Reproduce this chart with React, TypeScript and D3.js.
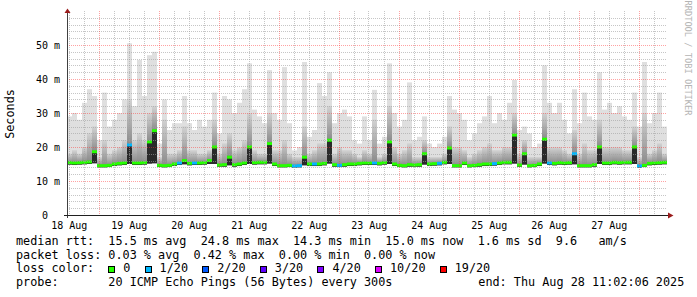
import React from "react";
import * as d3 from "d3";

const W = 697;
const H = 297;

// ---- data (2-hour bins, 10 days) ----
const MED = [
  15.4, 15.3, 15.4, 15.5, 15.6, 18.6, 14.5, 14.5, 14.6, 15.0, 15.2, 15.3,
  20.6, 15.3, 15.3, 15.4, 21.5, 24.8, 14.6, 14.5, 14.6, 15.0, 15.3, 16.0,
  15.2, 15.3, 15.3, 15.4, 16.0, 20.0, 14.7, 14.8, 17.0, 14.8, 15.0, 15.3,
  20.0, 15.4, 15.5, 15.5, 21.0, 15.0, 14.5, 14.5, 14.6, 14.4, 14.5, 17.0,
  15.0, 15.0, 15.0, 15.2, 22.0, 14.8, 14.6, 14.8, 15.0, 15.0, 15.2, 15.3,
  15.3, 15.3, 15.2, 15.4, 21.5, 15.0, 14.6, 14.5, 14.8, 14.7, 14.8, 18.0,
  15.0, 15.1, 15.2, 15.5, 19.7, 14.5, 14.5, 15.3, 14.5, 14.6, 14.8, 15.0,
  15.0, 15.1, 15.3, 15.5, 15.5, 23.5, 14.7, 18.0, 14.5, 14.6, 15.0, 22.3,
  15.3, 15.2, 15.4, 15.3, 15.4, 18.0, 14.5, 14.5, 14.5, 14.8, 20.0, 15.3,
  15.3, 15.5, 15.4, 15.5, 15.5, 20.0, 14.4, 14.6, 15.2, 15.3, 15.4, 15.5,
];
const MIN = [
  14.8, 14.7, 14.8, 14.9, 15.0, 15.2, 14.0, 14.0, 14.1, 14.4, 14.6, 14.7,
  15.0, 14.7, 14.7, 14.8, 15.1, 15.2, 14.1, 14.0, 14.1, 14.4, 14.7, 14.9,
  14.6, 14.7, 14.7, 14.8, 15.0, 15.0, 14.2, 14.2, 14.6, 14.2, 14.4, 14.7,
  15.0, 14.8, 14.9, 14.9, 15.1, 14.4, 14.0, 14.0, 14.1, 13.9, 14.0, 14.6,
  14.4, 14.4, 14.4, 14.6, 15.1, 14.2, 14.1, 14.2, 14.4, 14.4, 14.6, 14.7,
  14.7, 14.7, 14.6, 14.8, 15.0, 14.4, 14.1, 14.0, 14.2, 14.2, 14.2, 14.8,
  14.4, 14.5, 14.6, 14.9, 15.0, 14.0, 14.0, 14.7, 14.0, 14.1, 14.2, 14.4,
  14.4, 14.5, 14.7, 14.9, 14.9, 15.1, 14.2, 14.8, 14.0, 14.1, 14.4, 15.1,
  14.7, 14.6, 14.8, 14.7, 14.8, 14.9, 14.0, 14.0, 14.0, 14.2, 15.0, 14.7,
  14.7, 14.9, 14.8, 14.9, 14.9, 15.0, 13.9, 14.1, 14.6, 14.7, 14.8, 14.9,
];
const UPP = [
  18, 19, 18, 20, 24, 26, 17, 22, 18, 19, 20, 22,
  34, 22, 24, 22, 30, 32, 17, 28, 18, 18, 19, 26,
  19, 19, 18, 18, 19, 28, 18, 21, 24, 19, 20, 22,
  30, 19, 18, 18, 30, 19, 19, 22, 18, 17, 17, 26,
  18, 19, 21, 21, 32, 18, 20, 19, 19, 18, 17, 19,
  18, 28, 17, 18, 32, 20, 18, 19, 21, 17, 17, 22,
  17, 17, 17, 18, 26, 20, 20, 19, 17, 18, 19, 20,
  21, 19, 19, 20, 20, 30, 18, 22, 17, 17, 17, 30,
  20, 20, 20, 19, 18, 25, 18, 21, 19, 19, 28, 20,
  20, 20, 20, 19, 19, 26, 17, 30, 18, 19, 21, 18,
];
const TOP = [
  29, 30, 28, 33, 37, 35, 22, 36, 26, 28, 30, 34,
  50.5, 32, 45.6, 35, 47, 48, 21, 34, 25, 27, 27, 35,
  27, 25, 28, 26, 28, 36, 24, 35, 34, 30, 33, 37,
  44.6, 31, 29, 27, 42.6, 30, 28, 43.5, 27, 19, 20, 45,
  23, 25, 38.8, 35, 42, 27, 30, 31, 29, 22, 21, 29,
  22, 36.8, 21, 23, 44.6, 30, 26, 28, 39, 22, 23, 29,
  21, 20, 21, 23, 35, 31, 30, 28, 22, 24, 27, 29,
  35, 27, 30, 28, 33, 39.7, 25, 26, 24, 20, 21, 44,
  33, 30, 33, 28, 24, 37, 27, 36, 29, 28, 42, 31,
  33, 30, 32, 29, 28, 36, 26, 45, 27, 30, 36, 26,
];
const LOSS = [
  0, 0, 0, 0, 0, 0, 0, 0, 0, 0, 0, 0,
  1, 0, 0, 0, 0, 0, 0, 0, 0, 0, 1, 0,
  0, 1, 0, 0, 0, 0, 0, 0, 0, 0, 0, 0,
  0, 0, 0, 0, 0, 0, 0, 0, 0, 1, 1, 0,
  0, 1, 0, 0, 0, 0, 1, 0, 0, 0, 0, 0,
  0, 1, 0, 0, 0, 0, 0, 0, 0, 0, 0, 0,
  0, 0, 1, 0, 0, 0, 0, 0, 0, 0, 0, 0,
  0, 1, 0, 0, 0, 0, 0, 0, 0, 0, 0, 0,
  1, 0, 0, 0, 0, 1, 0, 0, 0, 0, 0, 0,
  0, 0, 0, 0, 0, 0, 1, 0, 0, 0, 0, 0,
];

const Y_TICKS = [0, 10, 20, 30, 40, 50];
const LOSS_LEVELS = [0, 1, 2, 3, 4, 10, 19];
const LOSS_COLORS = ["#26ff00", "#00b8ff", "#0059ff", "#5e00ff", "#7e00ff", "#dd00ff", "#ff0000"];
const LOSS_LABELS = ["0", "1/20", "2/20", "3/20", "4/20", "10/20", "19/20"];

const LINE_RTT = "median rtt:  15.5 ms avg  24.8 ms max  14.3 ms min  15.0 ms now  1.6 ms sd  9.6   am/s";
const LINE_LOSS = "packet loss: 0.03 % avg  0.42 % max  0.00 % min  0.00 % now";
const LINE_COLOR = "loss color:";
const LINE_PROBE = "probe:       20 ICMP Echo Pings (56 Bytes) every 300s";
const LINE_END = "end: Thu Aug 28 11:02:06 2025";
const WATERMARK = "RRDTOOL / TOBI OETIKER";
const Y_TITLE = "Seconds";

const MONO = "'DejaVu Sans Mono', 'Liberation Mono', monospace";
const CW = 7.1;
const PRE = { whiteSpace: "pre" as const };

const T0 = Date.UTC(2025, 7, 17, 23, 24);
const HOUR = 3600 * 1000;
const T1 = T0 + 240 * HOUR;

function lossColor(l: number) {
  let c = LOSS_COLORS[0];
  LOSS_LEVELS.forEach((lv, i) => {
    if (l >= lv) c = LOSS_COLORS[i];
  });
  return c;
}

export default function App() {
  const x = d3.scaleUtc().domain([new Date(T0), new Date(T1)]).range([67, 667]);
  const y = d3.scaleLinear().domain([0, 60]).range([215, 11]);
  const binMs = (T1 - T0) / MED.length;

  const bins = MED.map((m, i) => {
    const xs = x(new Date(T0 + i * binMs));
    const xe = x(new Date(T0 + (i + 1) * binMs));
    return { i, xs, xe, med: m, min: MIN[i], upp: UPP[i], top: TOP[i], loss: LOSS[i] };
  });

  const vTimes = d3.utcHour.every(6)!.range(new Date(T0), new Date(T1));
  const days = d3.utcDay.range(new Date(T0), new Date(T1));
  const hMinor = d3.range(2, 60, 2).filter((v) => v % 10 !== 0);
  const hMajor = d3.range(10, 60, 10);
  const fmt = d3.utcFormat("%d %b");

  const py = (v: number) => Math.round(y(v)) + 0.5;

  let lx = 108.3;
  const legendItems = LOSS_LABELS.map((lab, i) => {
    const bx = lx;
    const tx = bx + 15;
    lx = tx + lab.length * CW + 2 * CW;
    return { bx, tx, lab, color: LOSS_COLORS[i] };
  });

  return (
    <svg
      width={W}
      height={H}
      viewBox={`0 0 ${W} ${H}`}
      style={{ position: "absolute", left: 0, top: 0, background: "#fff" }}
    >
      <defs>
        <linearGradient id="upg" x1="0" y1="1" x2="0" y2="0">
          <stop offset="0" stopColor="#8a8a8a" />
          <stop offset="1" stopColor="#d2d2d2" />
        </linearGradient>
      </defs>
      <rect x={0} y={0} width={W} height={H} fill="#fff" />

      {/* smoke */}
      {bins.map((b) => (
        <g key={"s" + b.i}>
          <rect x={b.xs} y={y(b.top)} width={b.xe - b.xs} height={y(b.min) - y(b.top)} fill="#dfdfdf" />
          <rect x={b.xs} y={y(b.upp)} width={b.xe - b.xs} height={y(b.min) - y(b.upp)} fill="#d0d0d0" />
          <rect x={b.xs} y={y(b.upp)} width={b.xe - b.xs} height={y(b.med) - y(b.upp)} fill="url(#upg)" />
          <rect x={b.xs} y={y(b.med)} width={b.xe - b.xs} height={Math.max(0, y(b.min) - y(b.med))} fill="#2a2a2a" />
        </g>
      ))}

      {/* median line coloured by loss */}
      {bins.map((b) => (
        <rect key={"m" + b.i} x={b.xs} y={y(b.med) - 1.5} width={b.xe - b.xs} height={3} fill={lossColor(b.loss)} />
      ))}

      {/* grid */}
      <g strokeWidth={1} strokeDasharray="1,1" fill="none">
        {hMinor.map((v) => (
          <line key={"hm" + v} x1={67} x2={667} y1={py(v)} y2={py(v)} stroke="#a0a0a0" strokeOpacity={0.6} />
        ))}
        {vTimes
          .filter((t) => t.getUTCHours() !== 12)
          .map((t) => (
            <line key={"vm" + +t} x1={Math.round(x(t)) + 0.5} x2={Math.round(x(t)) + 0.5} y1={11} y2={215} stroke="#a0a0a0" strokeOpacity={0.6} />
          ))}
        {hMajor.map((v) => (
          <line key={"hM" + v} x1={67} x2={667} y1={py(v)} y2={py(v)} stroke="#ff3030" strokeOpacity={0.45} />
        ))}
        {vTimes
          .filter((t) => t.getUTCHours() === 12)
          .map((t) => (
            <line key={"vM" + +t} x1={Math.round(x(t)) + 0.5} x2={Math.round(x(t)) + 0.5} y1={11} y2={215} stroke="#ff3030" strokeOpacity={0.45} />
          ))}
      </g>

      {/* axes */}
      <line x1={67.5} x2={67.5} y1={11} y2={218} stroke="#404040" strokeWidth={1} />
      <line x1={64} x2={669} y1={215.5} y2={215.5} stroke="#202020" strokeWidth={1} />
      <polygon points="64.5,13 70.5,13 67.5,8.5" fill="#9a1b1b" />
      <polygon points="668,212.5 668,218.5 673.5,215.5" fill="#9a1b1b" />

      {/* y tick labels */}
      {Y_TICKS.map((v) => (
        <text key={"yl" + v} x={60} y={y(v) + 3.5} textAnchor="end" fontFamily={MONO} fontSize={10} fill="#000" style={PRE}>
          {v === 0 ? "0  " : `${v} m`}
        </text>
      ))}

      {/* x tick labels */}
      {days.map((d) => (
        <text key={"xl" + +d} x={x(d) + 0.7} y={228.5} textAnchor="middle" fontFamily={MONO} fontSize={10} fill="#000">
          {fmt(d)}
        </text>
      ))}

      {/* y title */}
      <text transform="translate(13.5,114) rotate(-90)" textAnchor="middle" fontFamily={MONO} fontSize={11.8} fill="#000">
        {Y_TITLE}
      </text>

      {/* watermark */}
      <text transform="translate(685,58) rotate(90)" textAnchor="middle" fontFamily={MONO} fontSize={8.7} fill="#b4b4b4">
        {WATERMARK}
      </text>

      {/* legend */}
      <g fontFamily={MONO} fontSize={11.8} fill="#000">
        <text x={16} y={245} style={PRE}>{LINE_RTT}</text>
        <text x={16} y={258.7} style={PRE}>{LINE_LOSS}</text>
        <text x={16} y={272.4} style={PRE}>{LINE_COLOR}</text>
        {legendItems.map((it) => (
          <g key={"lg" + it.lab}>
            <rect x={Math.round(it.bx) + 0.5} y={266.5} width={6} height={6} fill={it.color} stroke="#000" strokeWidth={1} />
            <text x={it.tx} y={272.4} style={PRE}>{it.lab}</text>
          </g>
        ))}
        <text x={16} y={286} style={PRE}>{LINE_PROBE}</text>
        <text x={478.3} y={286} style={PRE}>{LINE_END}</text>
      </g>
    </svg>
  );
}
